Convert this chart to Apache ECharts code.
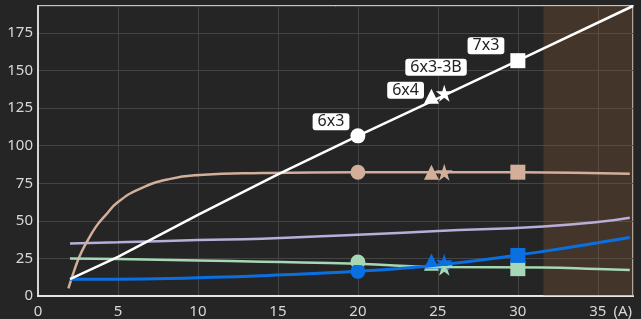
<!DOCTYPE html>
<html>
<head>
<meta charset="utf-8">
<script src="https://cdn.jsdelivr.net/npm/echarts@6/dist/echarts.min.js"></script>
<style>
  html, body { margin: 0; padding: 0; background: #252525; }
  #main { width: 641px; height: 319px; }
</style>
</head>
<body>
<div id="main"></div>
<script>
// curves, [A, value]
var whiteLine = [[2, 11.3], [5, 26], [10, 54], [15, 81], [20, 106.6], [25, 131.6], [30, 156.6], [37.2, 193]];
var tanLine = [[1.9, 5], [2.3, 18], [2.6, 26.5], [3, 35], [3.65, 46.5], [4.2, 53.5], [5, 62.5], [6.4, 71.5], [8.2, 77.8], [10.1, 80.5], [14, 81.8], [20, 82.4], [30, 82.4], [37, 81.3]];
var lavenderLine = [[2, 35], [5, 35.7], [10, 37.2], [14, 38.1], [20, 40.8], [25, 43.2], [31.6, 46.3], [35, 49.2], [37, 52.1]];
var greenLine = [[2, 25], [5, 24.6], [10, 23.7], [14, 22.8], [20, 21.5], [25, 19.3], [31.6, 18.9], [35, 17.9], [37, 17.3]];
var blueLine = [[2, 11.1], [5, 11.1], [10, 12.2], [14, 13.5], [20, 16.4], [25, 20.6], [31.6, 29.7], [35, 35.5], [37, 39]];

// marked points (one per cable type)
var markerNames = ['6x3', '6x4', '6x3-3B', '7x3'];
var markerX = [20, 24.6, 25.4, 30];
var whiteMarkers = [106.6, 133, 134.9, 156.6];
var tanMarkers = [82.4, 82.4, 82.4, 82.4];
var greenMarkers = [22.6, 21.8, 19.1, 18.2];
var blueMarkers = [16.4, 23.3, 22.4, 27];

// shaded range on the x axis
var shadeFrom = 31.6;
var xMax = 37.2;
var yMax = 193;

var chart = echarts.init(document.getElementById('main'));

var star = 'path://M50,0L61.2,34.5L97.6,34.5L68.2,55.9L79.4,90.5L50,69.1L20.6,90.5L31.8,55.9L2.4,34.5L38.8,34.5Z';
var symbols = ['circle', 'triangle', star, 'rect'];
var sizes = [15, 15, 17, 15];
var labelOffsets = [[4, -14], [5, -6], [36, -26], [-1, -15]];

function markerData(values, withLabel) {
  return values.map(function (v, i) {
    var item = {
      name: markerNames[i],
      value: [markerX[i], v],
      symbol: symbols[i],
      symbolSize: sizes[i]
    };
    if (withLabel) {
      item.label = { show: true, position: 'left', offset: labelOffsets[i] };
    }
    return item;
  });
}

function lineSeries(data, color, width) {
  return {
    type: 'line',
    data: data,
    smooth: 0.5,
    showSymbol: false,
    silent: true,
    lineStyle: { color: color, width: width }
  };
}

function markerSeries(values, color, withLabel) {
  return {
    type: 'scatter',
    data: markerData(values, withLabel),
    itemStyle: { color: color, opacity: 1 },
    silent: true,
    label: {
      show: false,
      formatter: '{b}',
      backgroundColor: '#fff',
      color: '#222',
      fontFamily: 'Noto Sans',
      fontSize: 16,
      lineHeight: 17,
      padding: [0, 5],
      borderRadius: 3
    }
  };
}

var shade = lineSeries(lavenderLine, '#b9aed9', 2.5);
shade.markArea = {
  silent: true,
  itemStyle: { color: 'rgba(144, 94, 57, 0.3)' },
  data: [[{ xAxis: shadeFrom }, { xAxis: xMax }]]
};

var white = lineSeries(whiteLine, '#ffffff', 2.5);
white.smooth = false;

var option = {
  backgroundColor: '#252525',
  animation: false,
  grid: {
    left: 38, right: 8, top: 6, bottom: 23,
    show: true,
    borderColor: '#c4c4c4',
    borderWidth: 2
  },
  xAxis: {
    type: 'value',
    min: 0,
    max: xMax,
    interval: 5,
    name: '(A)',
    nameLocation: 'end',
    nameGap: -1,
    nameTextStyle: {
      color: '#d8d8d8', fontFamily: 'Noto Sans', fontSize: 15,
      align: 'right', verticalAlign: 'top', padding: [8, 0, 0, 0]
    },
    axisLine: { lineStyle: { color: '#e6e6e6', width: 2 } },
    axisTick: { show: false },
    axisLabel: {
      color: '#d8d8d8', fontFamily: 'Noto Sans', fontSize: 15, margin: 8,
      formatter: function (v) { return v % 5 === 0 && v <= 35 ? String(v) : ''; }
    },
    splitLine: { lineStyle: { color: '#444', width: 1 } }
  },
  yAxis: {
    type: 'value',
    min: 0,
    max: yMax,
    interval: 25,
    axisLine: { show: true, lineStyle: { color: '#d6d6d6', width: 2 } },
    axisTick: { show: false },
    axisLabel: {
      color: '#d8d8d8', fontFamily: 'Noto Sans', fontSize: 15, margin: 5,
      formatter: function (v) { return v % 25 === 0 ? String(v) : ''; }
    },
    splitLine: { lineStyle: { color: '#444', width: 1 } }
  },
  series: [
    shade,
    lineSeries(tanLine, '#d2ae9b', 2.5),
    lineSeries(greenLine, '#a6d8b5', 2.5),
    lineSeries(blueLine, '#0a70e2', 3),
    white,
    markerSeries(tanMarkers, '#d2ae9b', false),
    markerSeries(greenMarkers, '#a6d8b5', false),
    markerSeries(blueMarkers, '#0a70e2', false),
    markerSeries(whiteMarkers, '#ffffff', true)
  ]
};

chart.setOption(option);
</script>
</body>
</html>
